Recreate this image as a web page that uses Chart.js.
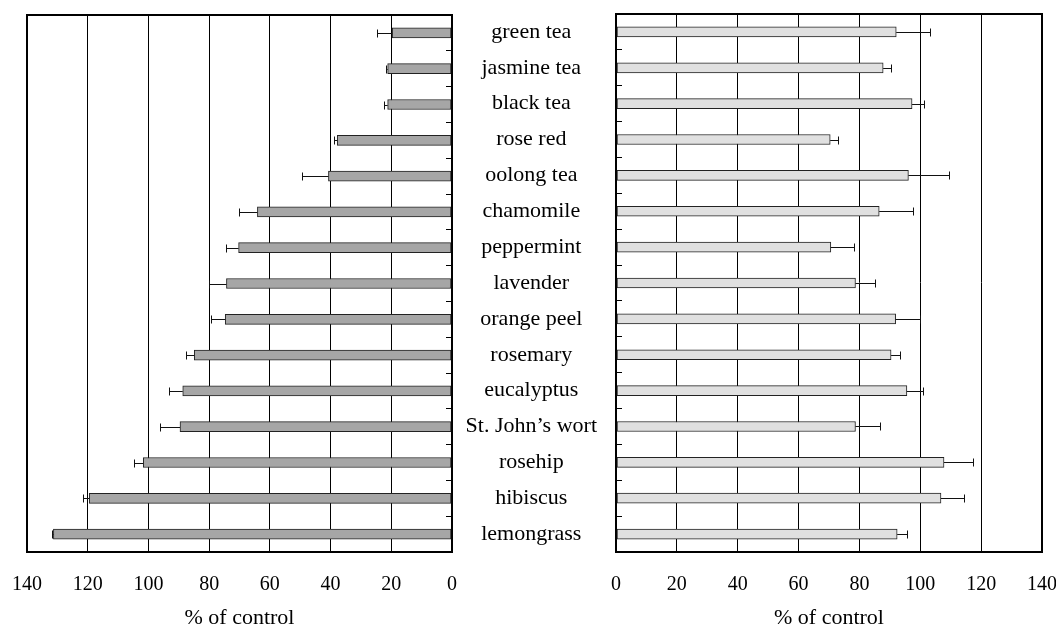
<!DOCTYPE html>
<html>
<head>
<meta charset="utf-8">
<script src="https://cdn.jsdelivr.net/npm/chart.js@4.4.1/dist/chart.umd.min.js"></script>
<style>
  html,body{margin:0;padding:0;background:#fff;}
  #wrap{position:relative;width:1056px;height:626px;overflow:hidden;background:#fff;}
  canvas{position:absolute;top:0;}
</style>
</head>
<body>
<div id="wrap">
  <canvas id="leftChart" width="470" height="626" style="left:0"></canvas>
  <canvas id="rightChart" width="616" height="626" style="left:440px"></canvas>
</div>
<script>
// ===================== DATA =====================
const herbs=['green tea','jasmine tea','black tea','rose red','oolong tea','chamomile','peppermint',
  'lavender','orange peel','rosemary','eucalyptus','St. John’s wort','rosehip','hibiscus','lemongrass'];
const leftVals=[19.7,21.2,21.2,37.8,40.7,64.1,70.3,74.3,74.7,84.9,88.7,89.6,101.7,119.5,131.3];
const leftErr=[4.9,0.4,1.1,1.2,8.7,6.1,4.1,5.8,4.7,2.6,4.4,6.6,3.1,2.1,0.6];
const rightVals=[92.1,87.8,97.3,70.4,96.1,86.5,70.6,78.7,91.9,90.4,95.6,78.7,107.8,106.8,92.4];
const rightErr=[11.1,2.6,3.9,2.5,13.3,11.1,7.6,6.4,8.0,2.8,5.3,8.1,9.5,7.7,3.2];
const xTicks=[0,20,40,60,80,100,120,140];

const SERIF='"Liberation Serif","DejaVu Serif",serif';

// error bars drawn from the bar end, through the x scale
const errorBars={
  id:'errorBars',
  afterDatasetsDraw(chart,args,opts){
    const {ctx,scales:{x}}=chart;
    const meta=chart.getDatasetMeta(0);
    const vals=chart.data.datasets[0].data;
    ctx.save();
    ctx.strokeStyle='#111';ctx.lineWidth=1;
    meta.data.forEach((bar,i)=>{
      const x0=x.getPixelForValue(vals[i]);
      const x1=Math.round(x.getPixelForValue(vals[i]+opts.errors[i]))+0.5;
      const y=Math.round(bar.y)+0.5;
      ctx.beginPath();
      ctx.moveTo(x0,y);ctx.lineTo(x1,y);
      ctx.moveTo(x1,y-4);ctx.lineTo(x1,y+4);
      ctx.stroke();
    });
    ctx.restore();
  }
};

// no automatic label overflow padding: the layout padding decides the plot box
function noPad(s){s.paddingTop=0;s.paddingBottom=0;s.paddingLeft=0;s.paddingRight=0;}

function xScale(reverse){
  return {
    type:'linear',min:0,max:140,reverse,
    afterBuildTicks:s=>{s.ticks=xTicks.map(v=>({value:v}));},
    ticks:{color:'#000',font:{family:SERIF,size:20},padding:21,maxRotation:0},
    grid:{color:'#000',drawTicks:false,lineWidth:c=>(c.tick&&(c.tick.value===0||c.tick.value===140))?2:1},
    border:{color:'#000',width:2},
    title:{display:true,text:'% of control',color:'#000',font:{family:SERIF,size:22,lineHeight:0.75},padding:{top:0,bottom:0}},
    afterFit:s=>{s.height=74;noPad(s);}
  };
}
function topScale(){
  return {type:'linear',position:'top',min:0,max:140,
    ticks:{display:false},grid:{display:false,drawTicks:false},border:{color:'#000',width:2},
    afterFit:s=>{s.height=0;noPad(s);}};
}

function makeChart(id,vals,errs,fill,left){
  const yOpts={
    type:'category',position:left?'right':'left',offset:true,
    grid:{offset:true,drawOnChartArea:false,drawTicks:true,tickLength:-6,color:'#000',lineWidth:1},
    border:{color:'#000',width:2},
    ticks:left?{display:false}:{color:'#000',font:{family:SERIF,size:22},crossAlign:'center',padding:25,autoSkip:false},
    afterFit:s=>{s.width=left?18:176;noPad(s);}
  };
  return new Chart(document.getElementById(id).getContext('2d'),{
    type:'bar',
    data:{labels:herbs,datasets:[{data:vals,backgroundColor:fill,borderColor:'#222',borderWidth:1,borderSkipped:false,barThickness:10}]},
    options:{
      indexAxis:'y',responsive:false,animation:false,devicePixelRatio:1,
      layout:{padding:left?{left:27,top:15,right:0,bottom:0}:{left:0,top:14,right:14,bottom:0}},
      plugins:{legend:{display:false},tooltip:{enabled:false},errorBars:{errors:errs}},
      scales:{x:xScale(left),xTop:topScale(),y:yOpts}
    },
    plugins:[errorBars]
  });
}

makeChart('leftChart',leftVals,leftErr,'#a6a6a6',true);
makeChart('rightChart',rightVals,rightErr,'#e0e0e0',false);
</script>
</body>
</html>
